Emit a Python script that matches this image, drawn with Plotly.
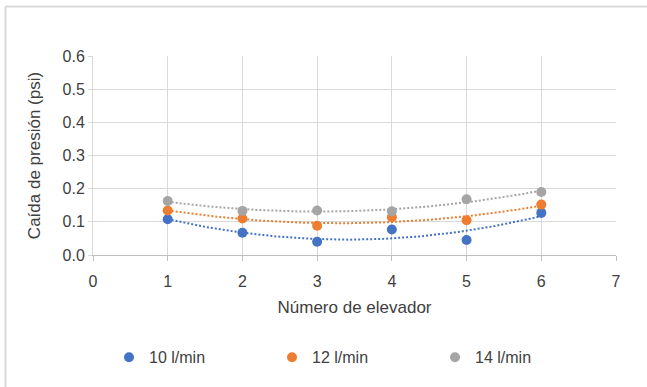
import numpy as np
import plotly.graph_objects as go

elevators = [1, 2, 3, 4, 5, 6]
flow_10 = [0.108, 0.067, 0.040, 0.077, 0.045, 0.127]
flow_12 = [0.134, 0.110, 0.088, 0.114, 0.105, 0.152]
flow_14 = [0.163, 0.133, 0.134, 0.132, 0.168, 0.190]
series_names = ["10 l/min", "12 l/min", "14 l/min"]
colors = ["#4472C4", "#ED7D31", "#A5A5A5"]

x_ticks = [0, 1, 2, 3, 4, 5, 6, 7]
y_ticks = [0.0, 0.1, 0.2, 0.3, 0.4, 0.5, 0.6]

FONT = "Liberation Sans, Arial, sans-serif"
TXT = "#404040"

fig = go.Figure()
xs = np.linspace(1, 6, 200)
for vals, name, col in zip([flow_10, flow_12, flow_14], series_names, colors):
    coef = np.polyfit(elevators, vals, 2)
    fig.add_trace(go.Scatter(x=xs, y=np.polyval(coef, xs), mode="lines",
                             line=dict(color=col, width=2, dash="2px,2px"),
                             showlegend=False, hoverinfo="skip"))
for vals, name, col in zip([flow_10, flow_12, flow_14], series_names, colors):
    fig.add_trace(go.Scatter(x=elevators, y=vals, mode="markers", name=name,
                             marker=dict(color=col, size=10)))

PL, PR, PT, PB = 93, 616, 56, 259   # plot area in screen px
W, H = 647, 387
pw, ph = PR - PL, PB - PT

def px_x(p):
    return (p - PL) / pw

def px_y(p):
    return (PB - p) / ph

# chart-area border (only top and left edges are inside the crop)
border = dict(color="#D9D9D9", width=2)
fig.add_shape(type="line", xref="paper", yref="paper",
              x0=px_x(5.5), x1=px_x(660), y0=px_y(5.5), y1=px_y(5.5),
              line=border, layer="below")
fig.add_shape(type="line", xref="paper", yref="paper",
              x0=px_x(5.5), x1=px_x(5.5), y0=px_y(5.5), y1=px_y(400),
              line=border, layer="below")

fig.update_layout(
    width=W, height=H,
    margin=dict(l=PL, r=W - PR, t=PT, b=H - PB),
    paper_bgcolor="white", plot_bgcolor="white",
    font=dict(family=FONT, size=16, color=TXT),
    showlegend=True,
    legend=dict(orientation="h", x=px_x(109), xanchor="left",
                y=px_y(346), yanchor="top",
                entrywidth=118, entrywidthmode="pixels",
                font=dict(family=FONT, size=16, color=TXT),
                itemwidth=30),
    xaxis=dict(range=[0, 7], tickvals=x_ticks, showgrid=True,
               gridcolor="#D9D9D9", gridwidth=1, zeroline=False,
               showline=True, linecolor="#BFBFBF", linewidth=1,
               ticks="outside", ticklen=5, tickcolor="#BFBFBF",
               ticklabelstandoff=7,
               tickfont=dict(size=16),
               title=dict(text="Número de elevador", standoff=11,
                          font=dict(family=FONT, size=17, color=TXT))),
    yaxis=dict(range=[0, 0.6], tickvals=y_ticks, tickformat=".1f",
               showgrid=True, gridcolor="#D9D9D9", gridwidth=1,
               zeroline=False, showline=True, linecolor="#D9D9D9",
               ticks="outside", ticklen=4, tickcolor="#D9D9D9",
               tickfont=dict(size=16),
               title=dict(text="Caída de presión (psi)", standoff=17,
                          font=dict(family=FONT, size=17, color=TXT))),
)

fig.write_html("out.html", config={"displayModeBar": False},
               post_script="document.body.style.margin='0';")
